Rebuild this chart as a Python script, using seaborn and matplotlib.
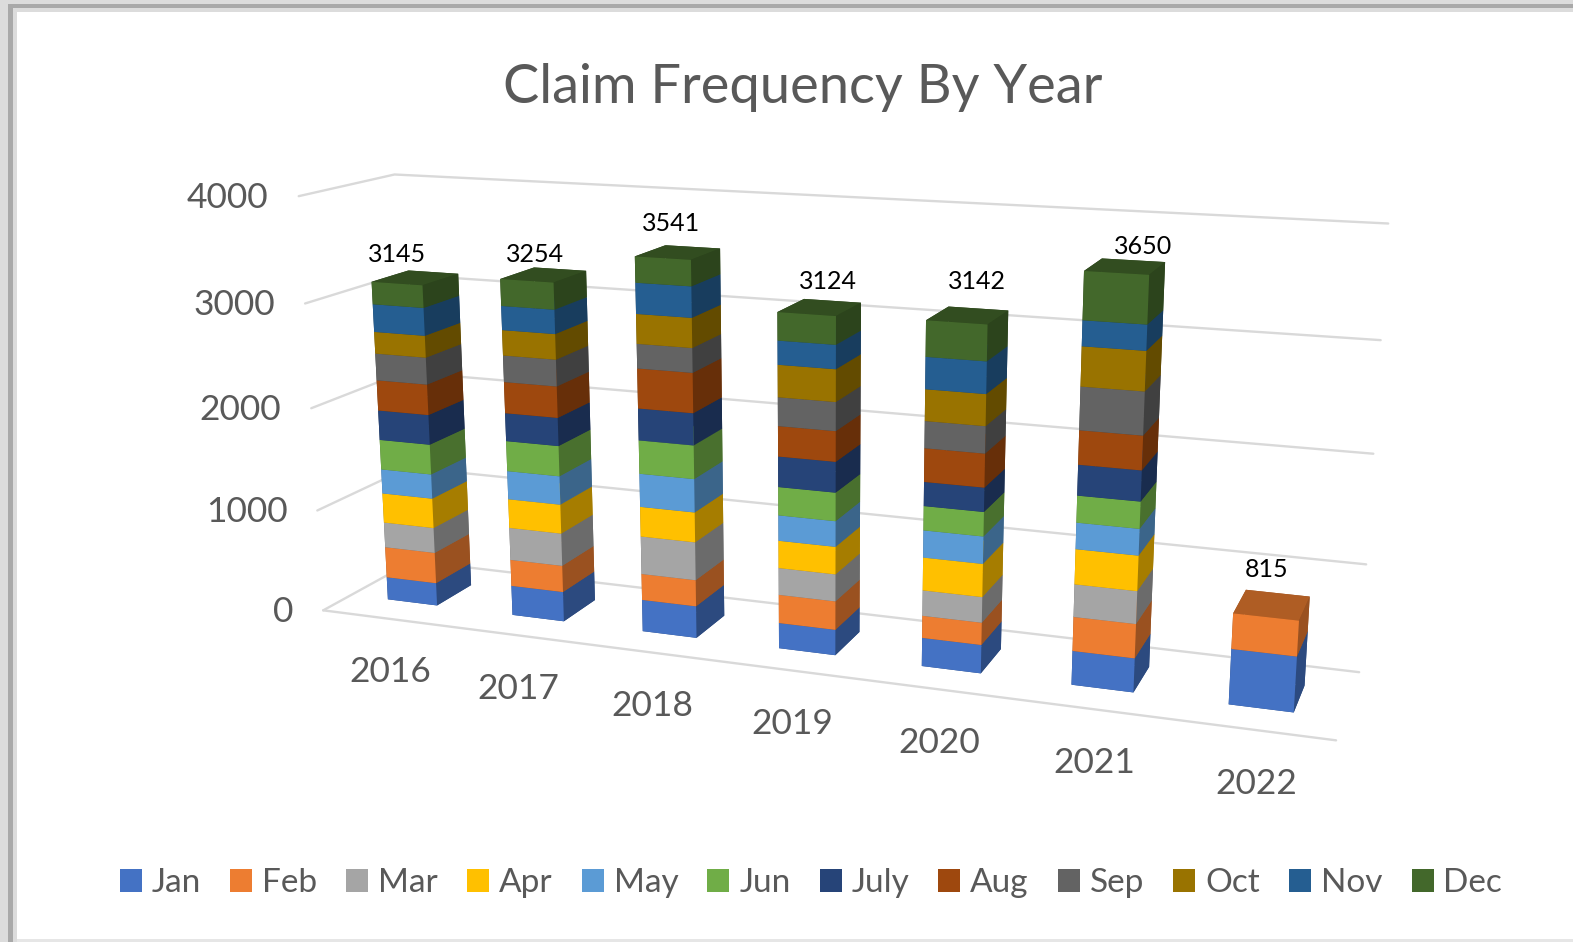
# 3D stacked columns: claim frequency per year, split by month
import numpy as np
import seaborn as sns
from matplotlib import pyplot as plt
from matplotlib.patches import Patch, Rectangle
from mpl_toolkits.mplot3d import proj3d

years = ['2016', '2017', '2018', '2019', '2020', '2021', '2022']
months = ['Jan', 'Feb', 'Mar', 'Apr', 'May', 'Jun', 'July', 'Aug', 'Sep', 'Oct', 'Nov', 'Dec']
totals = [3145, 3254, 3541, 3124, 3142, 3650, 815]
z_ticks = [0, 1000, 2000, 3000, 4000]

# values per month, one for each year (2022 only has Jan and Feb)
jan = [226, 291, 307, 242, 265, 311, 498]
feb = [306, 259, 253, 270, 207, 311, 317]
mar = [250, 317, 364, 255, 237, 296, 0]
apr = [293, 282, 285, 258, 304, 317, 0]
may = [240, 275, 316, 239, 250, 237, 0]
jun = [293, 291, 316, 264, 222, 240, 0]
jul = [290, 269, 300, 283, 219, 272, 0]
aug = [296, 298, 373, 280, 304, 302, 0]
sep = [260, 253, 228, 264, 244, 379, 0]
oct_ = [210, 240, 275, 295, 283, 346, 0]
nov = [266, 227, 285, 218, 286, 222, 0]
dec = [215, 252, 239, 256, 321, 417, 0]
month_values = [jan, feb, mar, apr, may, jun, jul, aug, sep, oct_, nov, dec]

month_colors = ['#4472C4', '#ED7D31', '#A5A5A5', '#FFC000', '#5B9BD5', '#70AD47',
                '#264478', '#9E480E', '#636363', '#997300', '#255E91', '#43682B']

sns.set_theme(style='white')
plt.rcParams['font.family'] = ['Lato', 'DejaVu Sans']
palette = sns.color_palette(month_colors)

W, H = 1573, 942
fig = plt.figure(figsize=(W / 100, H / 100), dpi=100, facecolor='white')

# shadow of the pasted screenshot along the top and left edges
def band(x0, y0, x1, y1, color):
    fig.add_artist(Rectangle((x0 / W, 1 - y1 / H), (x1 - x0) / W, (y1 - y0) / H,
                             transform=fig.transFigure, color=color, lw=0, zorder=-5))

band(0, 0, W, 12, '#dcdcdc')
band(0, 0, 17, H, '#dcdcdc')
band(8, 4, W, 8, '#a9a9a9')
band(8, 4, 13, H, '#a9a9a9')
band(17, H - 3, W, H, '#e6e6e6')

ax = fig.add_axes([0.013, 0.03, 1, 1], projection='3d', facecolor='none')
ax.set_proj_type('persp', focal_length=0.42)
ax.view_init(elev=14, azim=-70)
ax.set_xlim(0, 7, view_margin=0)
ax.set_ylim(0, 1, view_margin=0)
ax.set_zlim(0, 4000, view_margin=0)
ax.set_box_aspect((968, 170, 405), zoom=1.2)
ax.set_axis_off()


# label anchored on a 3D point, with an offset in pixels
def label(x, y, z, s, dx, dy, **kw):
    px, py, _ = proj3d.proj_transform(x, y, z, ax.get_proj())
    ax.annotate(s, xy=(px, py), xytext=(dx, dy), textcoords='offset pixels',
                annotation_clip=False, va='center', **kw)


# walls and floor
grid_color = '#d9d9d9'
for z in z_ticks:
    ax.plot([0, 0, 7], [0, 1, 1], [z, z, z], color=grid_color, lw=1.7, zorder=1, clip_on=False)
    label(0, 0, z, str(z), -30, -2, ha='right', fontsize=25.5, color='#595959')
ax.plot([0, 7], [0, 0], [0, 0], color=grid_color, lw=1.7, zorder=1, clip_on=False)

# stacked boxes, front face plain, side and top darker
values = np.array(month_values, dtype=float)
bottoms = np.vstack([np.zeros(len(years)), np.cumsum(values, axis=0)[:-1]])
bar_w, bar_d = 0.4, 0.4
xs, ys, zs, ds, face_colors = [], [], [], [], []
for m, color in enumerate(palette):
    base = np.array(color)
    for i in range(len(years)):
        if values[m, i] == 0:
            continue
        xs.append(i + 0.5 - bar_w / 2)
        ys.append(0.5 - bar_d / 2)
        zs.append(bottoms[m, i])
        ds.append(values[m, i])
        # order of faces in bar3d: -z, +z, -y, +y, -x, +x
        face_colors += [base * 0.65, base * 0.74, base, base * 0.65, base * 0.65, base * 0.65]
bars = ax.bar3d(xs, ys, zs, bar_w, bar_d, ds, color=face_colors, shade=False, linewidth=0)
bars.set_clip_on(False)

# the total labels were placed by hand in the original, so they sit a bit off centre
label_dx = [-18, -9, -7, 8, 9, 18, -5]
label_dy = [23, 20, 29, 26, 34, 20, 35]
for i, year in enumerate(years):
    label(i + 0.5, 0, 0, year, 5, -54, ha='center', fontsize=25.5, color='#595959')
    label(i + 0.5, 0.5, totals[i], str(totals[i]), label_dx[i], label_dy[i], ha='center',
          fontsize=18, color='black')

fig.text(803 / W, 1 - 88 / H, 'Claim Frequency By Year', ha='center', va='center',
         fontsize=39, color='#595959')

handles = [Patch(facecolor=c, edgecolor='none') for c in palette]
fig.legend(handles, months, loc='center', bbox_to_anchor=(811 / W, 1 - 883 / H), ncol=12,
           frameon=False, fontsize=24, labelcolor='#595959', handlelength=0.66, handleheight=0.66,
           handletextpad=0.3, columnspacing=0.87)

fig.savefig('out.png', dpi=100)
